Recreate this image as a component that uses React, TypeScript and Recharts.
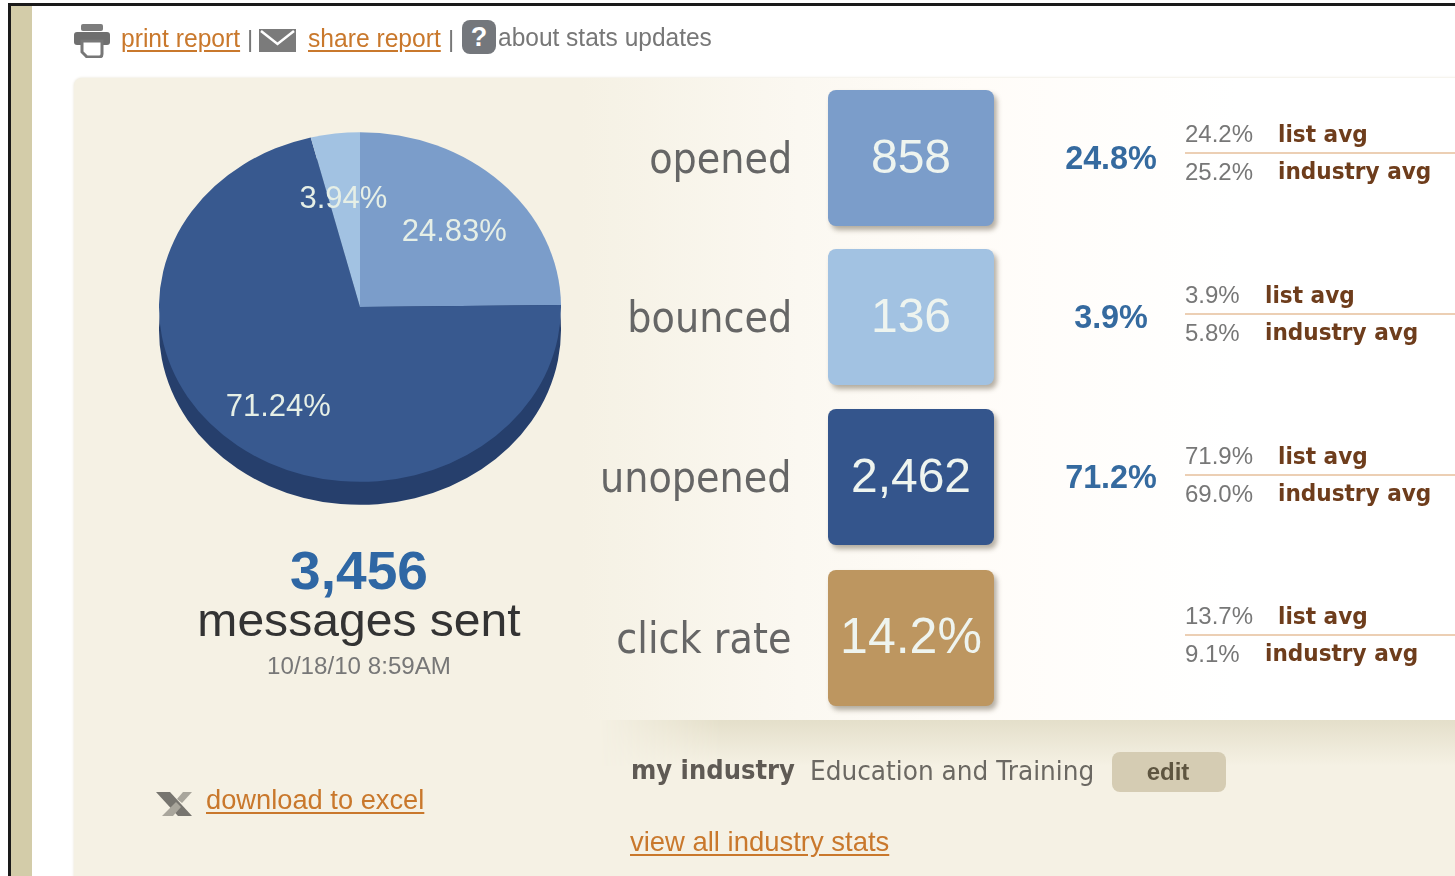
import React from 'react';
import { PieChart, Pie, Cell } from 'recharts';

const sliceNames = ['opened', 'unopened', 'bounced'];
const sliceValues = [24.83, 71.24, 3.94];
const sliceColors = ['#7b9dca', '#38598f', '#a2c2e2'];

const rowNames = ['opened', 'bounced', 'unopened', 'click rate'];
const rowTiles = ['858', '136', '2,462', '14.2%'];
const rowTileColors = ['#7b9dca', '#a2c2e2', '#34558c', '#bd9660'];
const rowPercents = ['24.8%', '3.9%', '71.2%', ''];
const listAvgs = ['24.2%', '3.9%', '71.9%', '13.7%'];
const industryAvgs = ['25.2%', '5.8%', '69.0%', '9.1%'];

const pieData = sliceNames.map((name, i) => ({ name, value: sliceValues[i] }));

const ARIAL = '"Liberation Sans", Arial, sans-serif';
const VERDANA = '"DejaVu Sans", Verdana, sans-serif';
const LINK = '#c9782c';

const PIE_R = 201;
const SQUASH = 0.87;

const T = ({ x, y, size, color = '#555', font = ARIAL, bold = false, right = false, center = false, underline = false, sx = 1, blur = 0.5, children }: any) => (
    <div
        style={{
            position: 'absolute',
            left: right || center ? undefined : x,
            ...(right ? { right: 1455 - x } : {}),
            ...(center ? { left: x - 400, width: 800, textAlign: 'center' as const } : {}),
            top: y,
            fontFamily: font,
            fontSize: size,
            lineHeight: 1,
            fontWeight: bold ? 700 : 400,
            color,
            whiteSpace: 'nowrap',
            textDecoration: underline ? 'underline' : 'none',
            textUnderlineOffset: 3,
            transform: sx !== 1 ? `scaleX(${sx})` : undefined,
            transformOrigin: right ? 'right' : center ? 'center' : 'left',
            filter: `blur(${blur}px)`,
        }}
    >
        {children}
    </div>
);

// labels sit inside a squashed chart, so undo the squash on the text itself
const renderPieLabel = ({ cx, cy, midAngle, value }: any) => {
    const rad = (midAngle * Math.PI) / 180;
    const px = cx + 134 * Math.cos(rad);
    const py = cy - 134 * Math.sin(rad) + 6 / SQUASH;
    return (
        <text
            transform={`translate(${px},${py}) scale(1,${1 / SQUASH})`}
            textAnchor="middle"
            dominantBaseline="central"
            fill="#e6efe6"
            fontFamily={ARIAL}
            fontSize={31}
            style={{ filter: 'blur(0.5px)' }}
        >
            {value.toFixed(2)}%
        </text>
    );
};

const SquashedPie = ({ top, flat, labels }: { top: number; flat?: string; labels?: boolean }) => (
    <div style={{ position: 'absolute', left: 360 - 210, top: top - 210, width: 420, height: 420, transform: `scaleY(${SQUASH})` }}>
        <PieChart width={420} height={420} margin={{ top: 0, right: 0, bottom: 0, left: 0 }}>
            <Pie
                data={pieData}
                dataKey="value"
                nameKey="name"
                cx={210}
                cy={210}
                outerRadius={PIE_R}
                startAngle={90}
                endAngle={-270}
                stroke="none"
                label={labels ? renderPieLabel : false}
                labelLine={false}
                isAnimationActive={false}
            >
                {pieData.map((d, i) => (
                    <Cell key={d.name} fill={flat || sliceColors[i]} />
                ))}
            </Pie>
        </PieChart>
    </div>
);

const PrinterIcon = () => (
    <svg style={{ position: 'absolute', left: 73, top: 22 }} width={38} height={36} viewBox="0 0 38 36">
        <rect x="8" y="2" width="22" height="7" rx="2" fill="#7d7d7d" />
        <rect x="1" y="10" width="36" height="13" rx="3" fill="#6f6f6f" />
        <path d="M9 19 H29 V32 Q29 35 26 35 H14 L9 30 Z" fill="#fff" stroke="#777" strokeWidth="3" />
    </svg>
);

const MailIcon = () => (
    <svg style={{ position: 'absolute', left: 259, top: 29 }} width={37} height={23} viewBox="0 0 37 23">
        <rect width="37" height="23" fill="#7b7b7b" />
        <path d="M2 2 L18.5 15 L35 2" fill="none" stroke="#fff" strokeWidth="2.5" />
    </svg>
);

const ExcelIcon = () => (
    <svg style={{ position: 'absolute', left: 156, top: 790 }} width={38} height={30} viewBox="0 0 38 30">
        <path d="M0 2 H14 L36 26 H22 Z" fill="#77756f" />
        <path d="M6 26 L20 12 L25 17 L17 26 Z" fill="#a9a69c" />
        <path d="M21 9 L27 2 H36 L26 13 Z" fill="#a9a69c" />
    </svg>
);

export default function App() {
    return (
        <div style={{ position: 'fixed', left: 0, top: 0, width: 1455, height: 876, overflow: 'hidden', background: '#fff' }}>
            {/* window frame and left strip */}
            <div style={{ position: 'absolute', left: 8, top: 3, width: 1447, height: 3, background: '#1a1a1a' }} />
            <div style={{ position: 'absolute', left: 8, top: 3, width: 3, height: 873, background: '#1a1a1a' }} />
            <div style={{ position: 'absolute', left: 11, top: 6, width: 21, height: 870, background: '#d3cca9' }} />

            {/* toolbar */}
            <PrinterIcon />
            <T x={121} y={26} size={25} color={LINK} underline sx={0.985}>print report</T>
            <T x={247} y={27} size={24} color="#777">|</T>
            <MailIcon />
            <T x={308} y={26} size={25} color={LINK} underline sx={0.985}>share report</T>
            <T x={448} y={27} size={24} color="#777">|</T>
            <div style={{ position: 'absolute', left: 462, top: 20, width: 34, height: 34, borderRadius: 8, background: '#74777c', color: '#fff', fontFamily: ARIAL, fontWeight: 700, fontSize: 27, lineHeight: '34px', textAlign: 'center' }}>?</div>
            <T x={498} y={25} size={25} color="#777" sx={0.98}>about stats updates</T>

            {/* main panel */}
            <div style={{ position: 'absolute', left: 74, top: 78, width: 1400, height: 820, borderRadius: 8, background: '#f5f1e4', boxShadow: '0 0 3px #e4dfcf' }} />
            <div style={{ position: 'absolute', left: 580, top: 78, width: 875, height: 642, background: 'linear-gradient(90deg, #f5f1e4 0%, #fbf8f1 25%, #fffcf8 45%, #ffffff 75%)' }} />
            <div style={{ position: 'absolute', left: 600, top: 720, width: 855, height: 46, background: 'linear-gradient(180deg, #e4dfca 0%, #f5f1e4 100%)', WebkitMaskImage: 'linear-gradient(90deg, transparent 0, #000 120px)', maskImage: 'linear-gradient(90deg, transparent 0, #000 120px)' }} />

            {/* pie with its dark rim below */}
            <SquashedPie top={330} flat="#263f6c" />
            <SquashedPie top={307} labels />

            <T x={359} y={543} size={54} color="#2f67a4" bold center sx={1.02}>3,456</T>
            <T x={359} y={597} size={46} color="#333" center sx={1.045}>messages sent</T>
            <T x={359} y={655} size={23} color="#777" center sx={1.05}>10/18/10 8:59AM</T>

            <ExcelIcon />
            <T x={206} y={787} size={27} color={LINK} underline sx={1.01}>download to excel</T>

            {/* metric rows */}
            {rowNames.map((name, i) => {
                const y = [90, 249, 409, 570][i];
                const avgY = [90, 251, 412, 572][i];
                const h = 136;
                const listX = listAvgs[i].length < 5 ? 1265 : 1278;
                const industryX = industryAvgs[i].length < 5 ? 1265 : 1278;
                return (
                    <React.Fragment key={name}>
                        <T x={792} y={y + 48} size={42} color="#666" font={VERDANA} right sx={0.91}>{name}</T>
                        <div style={{ position: 'absolute', left: 828, top: y, width: 166, height: h, borderRadius: 8, background: rowTileColors[i], boxShadow: '3px 4px 5px rgba(90,80,60,0.45)' }} />
                        <T x={911} y={name === 'click rate' ? y + 41 : y + 43} size={name === 'click rate' ? 50 : 48} color="#eef4ef" center>{rowTiles[i]}</T>
                        {rowPercents[i] && <T x={1111} y={y + 51} size={33} color="#356a9f" bold center sx={0.98}>{rowPercents[i]}</T>}
                        <T x={1185} y={avgY + 32} size={24} color="#777">{listAvgs[i]}</T>
                        <T x={listX} y={avgY + 33} size={23} color="#6e3d1c" bold font={VERDANA} sx={0.94}>list avg</T>
                        <div style={{ position: 'absolute', left: 1185, top: avgY + 62, width: 270, height: 1.5, background: '#eccfb4' }} />
                        <T x={1185} y={avgY + 70} size={24} color="#777">{industryAvgs[i]}</T>
                        <T x={industryX} y={avgY + 70} size={23} color="#6e3d1c" bold font={VERDANA} sx={0.94}>industry avg</T>
                    </React.Fragment>
                );
            })}

            {/* industry footer */}
            <T x={631} y={756} size={27} color="#5f5a54" bold font={VERDANA} sx={0.9}>my industry</T>
            <T x={810} y={757} size={27} color="#6b6862" font={VERDANA} sx={0.92}>Education and Training</T>
            <div style={{ position: 'absolute', left: 1112, top: 752, width: 114, height: 40, borderRadius: 8, background: '#d5ccb3' }} />
            <T x={1168} y={760} size={24} color="#5e5540" bold center font={ARIAL}>edit</T>
            <T x={630} y={828} size={28} color={LINK} underline sx={0.98}>view all industry stats</T>
        </div>
    );
}
